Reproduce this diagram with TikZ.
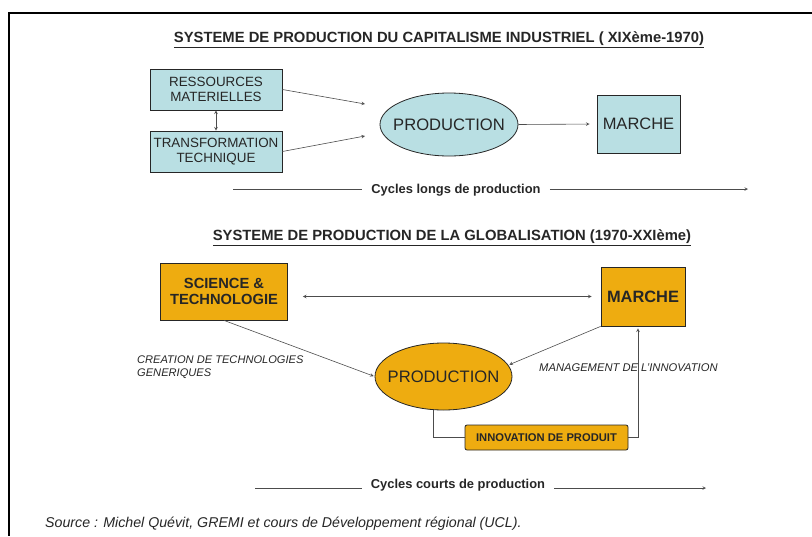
\documentclass[tikz,border=0pt]{standalone}
\usepackage{fontspec}
\setmainfont{Liberation Sans}
\usepackage{tikz}
\usetikzlibrary{shapes.geometric}
\definecolor{boxcyan}{RGB}{185,223,227}
\definecolor{boxorange}{RGB}{238,172,16}
\newcommand{\fsz}[1]{\fontsize{#1}{#1}\selectfont}
\newcommand{\nowidth}[1]{\makebox[0pt]{#1}}

\begin{document}
\begin{tikzpicture}[x=1pt, y=-1pt, >=stealth,
  every box/.style={draw=black!85, line width=0.8pt, align=center, inner sep=0pt, text=black!85},
  cyan box/.style={every box, fill=boxcyan},
  orange box/.style={every box, fill=boxorange, font=\bfseries},
  link/.style={draw=black!70, line width=0.6pt},
  heading/.style={font=\fsz{14.8}\bfseries, text=black!85},
  note/.style={font=\fsz{11.1}\itshape, text=black!85, align=left, inner sep=0pt}]

\useasboundingbox (0,0) rectangle (812,536);

% frame
\coordinate (frame-tr) at (812,13);
\coordinate (frame-tl) at (9,13);
\coordinate (frame-bl) at (9,536);
\draw [line width=1.5pt] (frame-tr) -- (frame-tl) -- (frame-bl);

% industrial system
\node [heading] (title-1) at (439,40) {\underline{SYSTEME DE PRODUCTION DU CAPITALISME INDUSTRIEL ( XIXème-1970)}};

\node [cyan box, minimum width=132pt, minimum height=41pt, font=\fsz{13.4}] (ressources) at (216,89.5)
  {RESSOURCES\\[2pt]MATERIELLES};
\node [cyan box, minimum width=132pt, minimum height=41pt, font=\fsz{13.4}] (transformation) at (216,151.5)
  {TRANSFORMATION\\[2pt]TECHNIQUE};
\node [cyan box, ellipse, minimum width=138pt, minimum height=63pt, font=\fsz{16.6}] (production-1) at (449,124.5) {\nowidth{PRODUCTION}};
\node [cyan box, minimum width=83pt, minimum height=58pt, font=\fsz{16.5}] (marche-1) at (638.5,124) {MARCHE};

\coordinate (prod-in-1) at (365,104);
\coordinate (prod-in-2) at (365,136);

\draw [<->, link] (ressources) -- (transformation);
\draw [->, link] (ressources.east) -- (prod-in-1);
\draw [->, link] (transformation.east) -- (prod-in-2);
\draw [->, link, shorten >=7pt] (production-1.east) -- (marche-1.west);

\node [font=\fsz{12.9}\bfseries, text=black!85, inner sep=9pt] (cycles-long) at (456,190.5) {Cycles longs de production};
\coordinate (long-start) at (233,189);
\coordinate (long-end) at (748,189);
\draw [link] (long-start) -- (long-start -| cycles-long.west);
\draw [->, link] (long-end -| cycles-long.east) -- (long-end);

% globalisation system
\node [heading] (title-2) at (452,238) {\underline{SYSTEME DE PRODUCTION DE LA GLOBALISATION (1970-XXIème)}};

\node [orange box, minimum width=127pt, minimum height=57pt, font=\fsz{14.7}\bfseries] (science) at (224,291.5)
  {SCIENCE \&\\[2pt]TECHNOLOGIE};
\node [orange box, minimum width=84pt, minimum height=59pt, font=\fsz{16.4}\bfseries] (marche-2) at (643,296.5) {MARCHE};
\node [orange box, ellipse, minimum width=137pt, minimum height=67pt, font=\fsz{16.6}\mdseries] (production-2) at (443.5,376.5) {\nowidth{PRODUCTION}};
\node [orange box, rounded corners=2pt, minimum width=163pt, minimum height=25pt, font=\fsz{11.2}\bfseries] (innovation) at (546.5,437.5) {INNOVATION DE PRODUIT};

\draw [<->, link, shorten <=15pt, shorten >=9pt] (science.east |- marche-2.west) -- (marche-2.west);
\draw [->, link, shorten >=1pt] (science.south) -- (production-2.west);
\draw [->, link, shorten >=1pt] (marche-2.south west) -- (production-2.10);
\draw [link] (production-2.253) |- (innovation.west);
\draw [->, link, shorten >=2pt] (innovation.east) -| ([xshift=-5pt]marche-2.south);

\node [note, anchor=north west] (creation) at (137,356) {CREATION DE TECHNOLOGIES\\[1pt]GENERIQUES};
\node [note, font=\fsz{11.2}\itshape, anchor=west] (management) at (539,368) {MANAGEMENT DE L'INNOVATION};

\node [font=\fsz{12.9}\bfseries, text=black!85, inner sep=9pt] (cycles-court) at (458,485) {Cycles courts de production};
\coordinate (court-start) at (255,488);
\coordinate (court-end) at (706,488);
\draw [link] (court-start) -- (court-start -| cycles-court.west);
\draw [->, link] (court-end -| cycles-court.east) -- (court-end);

\node [note, font=\fsz{14.2}\itshape, anchor=west] (source) at (45,524)
  {Source : Michel Quévit, GREMI et cours de Développement régional (UCL).};
\end{tikzpicture}
\end{document}
